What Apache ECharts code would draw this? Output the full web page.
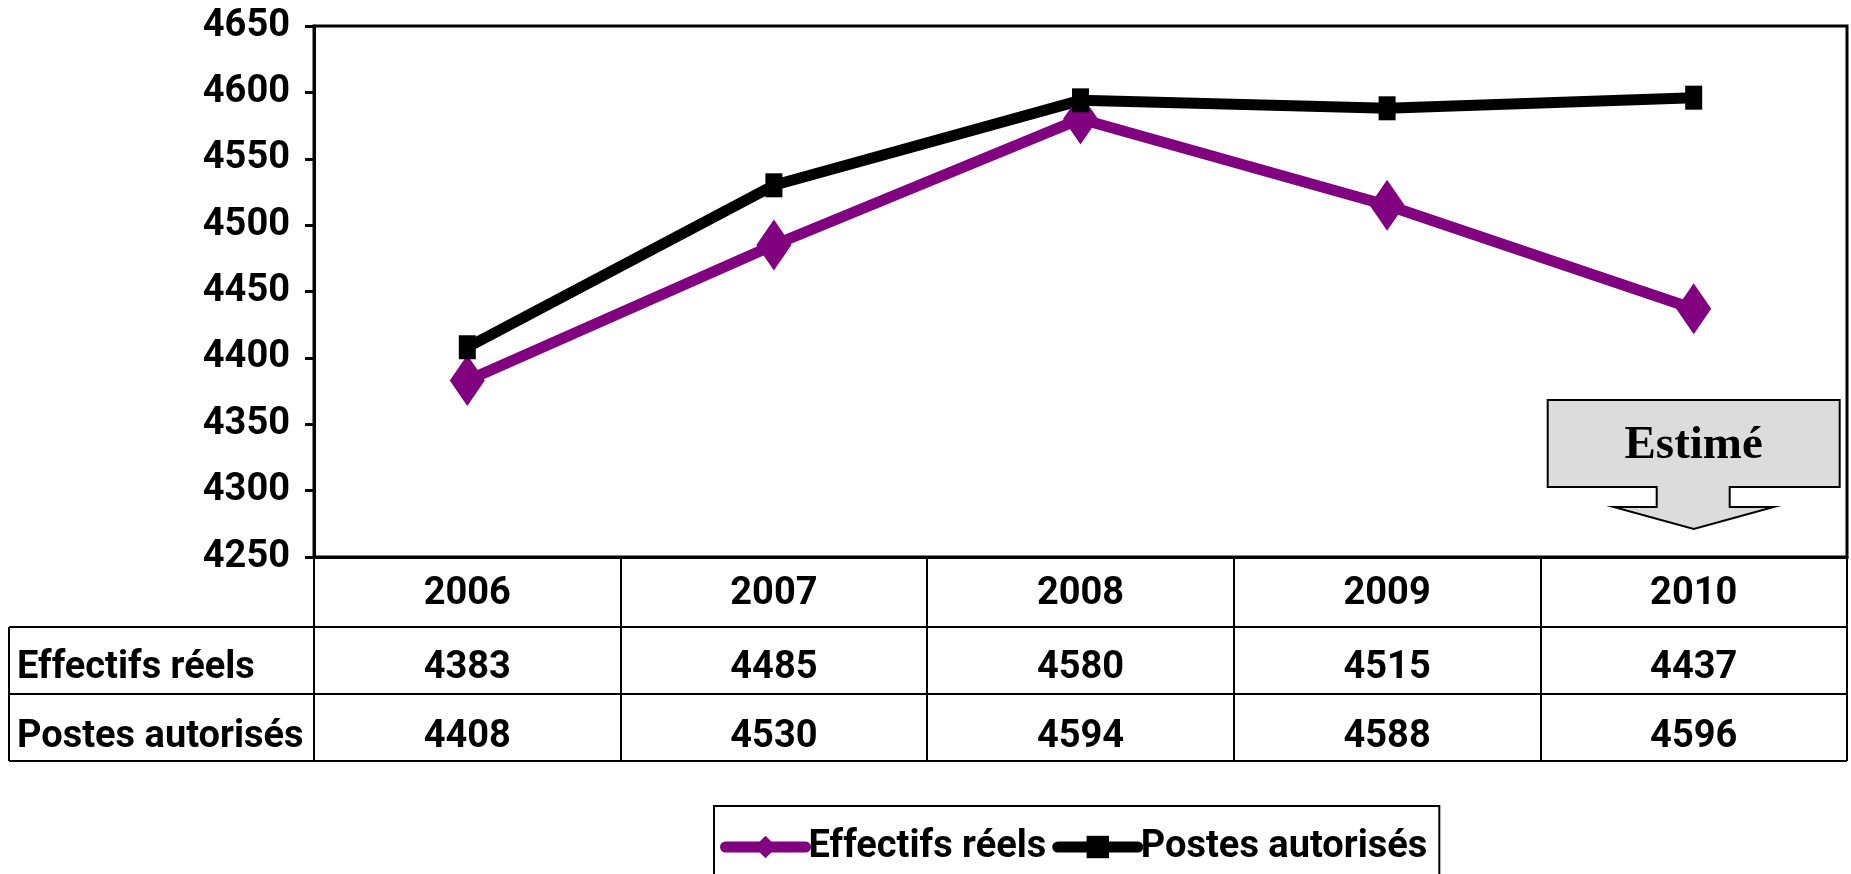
<!DOCTYPE html>
<html>
<head>
<meta charset="utf-8">
<script src="https://cdn.jsdelivr.net/npm/echarts@6/dist/echarts.min.js"></script>
<style>
	html, body { margin: 0; padding: 0; background: #fff; }
	#chart { width: 1851px; height: 874px; }
</style>
</head>
<body>
<div id="chart"></div>
<script>
var years = ['2006', '2007', '2008', '2009', '2010'];
var effectifs = [4383, 4485, 4580, 4515, 4437];
var postes = [4408, 4530, 4594, 4588, 4596];
var seriesNames = ['Effectifs réels', 'Postes autorisés'];
var yTicks = { min: 4250, max: 4650, step: 50 };
var estimeYear = '2010';
var estimeText = 'Estimé';

(function(){
	var myChart = echarts.init(document.getElementById('chart'));
	var font = 'Roboto';
	var fs = 38;
	var fw = 'bold';

	// plot area
	var gLeft = 314, gTop = 26, gRight = 4, gBottom = 317;
	var axisY = 874 - gBottom;   // x axis line
	var rowLines = [627, 694, 761];  // table row separators
	var tableLeft = 9;

	var textBase = { fontFamily: font, fontSize: fs, fontWeight: fw, color: '#000' };

	function tableAxis(offset, values) {
		return {
			type: 'category',
			gridIndex: 0,
			position: 'bottom',
			offset: offset,
			data: years,
			axisLine: { show: false },
			axisTick: { show: false },
			axisLabel: Object.assign({
				interval: 0,
				margin: 18,
				formatter: function (v, i) { return String(values[i]); }
			}, textBase)
		};
	}

	var option = {
		animation: false,
		backgroundColor: '#fff',
		grid: {
			left: gLeft, top: gTop, right: gRight, bottom: gBottom,
			containLabel: false,
			show: true,
			borderColor: '#000',
			borderWidth: 3,
			backgroundColor: 'transparent'
		},
		legend: {
			left: 714,
			top: 806,
			orient: 'horizontal',
			data: seriesNames,
			borderColor: '#000',
			borderWidth: 2,
			padding: [22, 12, 40, 6],
			itemWidth: 80,
			itemHeight: 28,
			itemGap: 6,
			lineStyle: { width: 11, cap: 'round' },
			textStyle: { fontFamily: font, fontSize: fs, fontWeight: fw, color: '#000', padding: [0, 0, 0, -2] }
		},
		xAxis: [
			{
				type: 'category',
				data: years,
				boundaryGap: true,
				axisLine: { lineStyle: { color: '#000', width: 3 } },
				axisTick: { show: true, interval: 0, length: rowLines[2] - axisY, lineStyle: { color: '#000', width: 2 } },
				axisLabel: Object.assign({ interval: 0, margin: 18 }, textBase),
				splitLine: { show: false }
			},
			tableAxis(74, effectifs),
			tableAxis(143, postes)
		],
		yAxis: {
			type: 'value',
			min: yTicks.min,
			max: yTicks.max,
			interval: yTicks.step,
			axisLine: { show: true, lineStyle: { color: '#000', width: 3 } },
			axisTick: { show: true, length: 9, lineStyle: { color: '#000', width: 3 } },
			axisLabel: Object.assign({ margin: 24, formatter: function (v) { return String(v); } }, textBase),
			splitLine: { show: false }
		},
		series: [
			{
				name: seriesNames[0],
				type: 'line',
				data: effectifs,
				symbol: 'diamond',
				symbolSize: [35, 51],
				lineStyle: { color: '#800080', width: 11 },
				itemStyle: { color: '#800080' }
			},
			{
				name: seriesNames[1],
				type: 'line',
				data: postes,
				symbol: 'rect',
				symbolSize: [17, 24],
				lineStyle: { color: '#000', width: 11 },
				itemStyle: { color: '#000' }
			}
		]
	};

	myChart.setOption(option);

	// table borders, row labels and the "Estimé" call-out
	var right = 1851 - gRight;
	var labelFont = fw + ' ' + fs + 'px ' + font;
	var graphics = [];
	rowLines.forEach(function (y) {
		graphics.push({ type: 'line', shape: { x1: tableLeft, y1: y, x2: right, y2: y }, style: { stroke: '#000', lineWidth: 2 } });
	});
	graphics.push({ type: 'line', shape: { x1: tableLeft, y1: rowLines[0], x2: tableLeft, y2: rowLines[2] }, style: { stroke: '#000', lineWidth: 2 } });
	graphics.push({ type: 'line', shape: { x1: gLeft, y1: rowLines[0], x2: gLeft, y2: rowLines[2] }, style: { stroke: '#000', lineWidth: 2 } });
	graphics.push({ type: 'text', left: 17, top: 649, style: { text: seriesNames[0], font: labelFont, fill: '#000' } });
	graphics.push({ type: 'text', left: 17, top: 718, style: { text: seriesNames[1], font: labelFont, fill: '#000' } });

	var cx = myChart.convertToPixel({ xAxisIndex: 0 }, estimeYear);
	var bTop = 400, bBot = 487, stemBot = 507, tip = 529;
	graphics.push({
		type: 'polygon',
		shape: {
			points: [
				[cx - 146, bTop], [cx + 146, bTop], [cx + 146, bBot], [cx + 36, bBot],
				[cx + 36, stemBot], [cx + 80, stemBot], [cx, tip], [cx - 80, stemBot],
				[cx - 37, stemBot], [cx - 37, bBot], [cx - 146, bBot]
			]
		},
		style: { fill: '#dcdcdc', stroke: '#000', lineWidth: 2 }
	});
	graphics.push({
		type: 'text',
		x: cx,
		y: 446,
		style: {
			text: estimeText,
			font: 'bold 47px "Liberation Serif"',
			fill: '#000',
			align: 'center',
			verticalAlign: 'middle',
			textShadowColor: '#fff',
			textShadowOffsetX: 2,
			textShadowOffsetY: 2
		}
	});

	myChart.setOption({ graphic: graphics });
})();
</script>
</body>
</html>
